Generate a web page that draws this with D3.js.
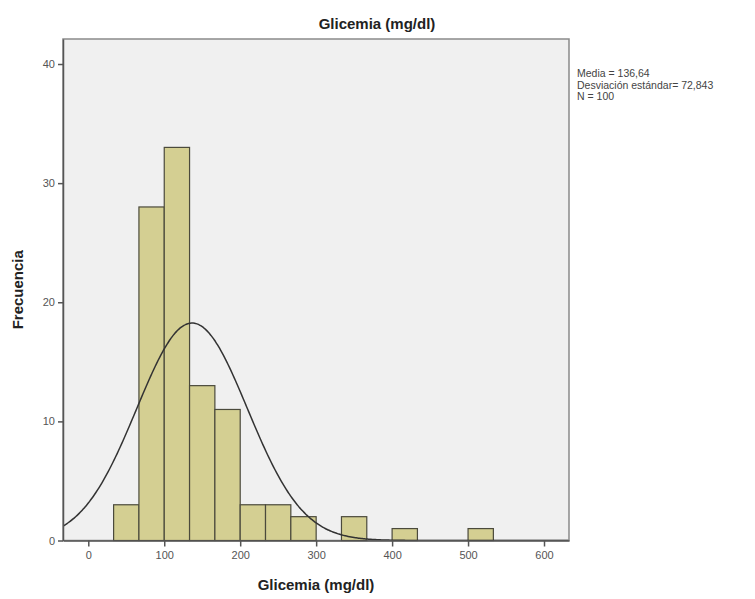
<!DOCTYPE html>
<html>
<head>
<meta charset="utf-8">
<script src="https://cdn.jsdelivr.net/npm/d3@7"></script>
<style>
	body { margin: 0; background: #fff; }
	text { font-family: "Liberation Sans", Arial, sans-serif; }
	.tick text { fill: #555; font-size: 11px; }
</style>
</head>
<body>
<svg id="hist" width="755" height="599"></svg>
<script>
// histogram bins (lower edge, mg/dl) and their frequencies
const binWidth = 100 / 3;
const binStarts = [33.33, 66.67, 100, 133.33, 166.67, 200, 233.33, 266.67, 333.33, 400, 500];
const binCounts = [3, 28, 33, 13, 11, 3, 3, 2, 2, 1, 1];

const xTicks = [0, 100, 200, 300, 400, 500, 600];
const yTicks = [0, 10, 20, 30, 40];

// summary stats printed next to the chart (also define the normal curve)
const mean = 136.64;
const stdDev = 72.843;
const nTotal = 100;
const statLines = ["Media = 136,64", "Desviación estándar= 72,843", "N = 100"];

const svg = d3.select("#hist");

// plot frame
const frame = {left: 63, right: 569, top: 39, bottom: 540.5};

const x = d3.scaleLinear().domain([-33.3, 632.9]).range([frame.left, frame.right]);
const y = d3.scaleLinear().domain([0, 42.1]).range([frame.bottom, frame.top]);

svg.append("defs").append("clipPath")
	.attr("id", "plot-clip")
	.append("rect")
	.attr("x", frame.left).attr("y", frame.top)
	.attr("width", frame.right - frame.left).attr("height", frame.bottom - frame.top);

svg.append("rect")
	.attr("x", frame.left).attr("y", frame.top)
	.attr("width", frame.right - frame.left).attr("height", frame.bottom - frame.top)
	.style("fill", "#f0f0f0")
	.style("stroke", "#8a8a8a")
	.style("stroke-width", 1.5);

// bars
const bins = binStarts.map((s, i) => ({x0: s, x1: s + binWidth, n: binCounts[i]}));

svg.append("g").selectAll(".bar")
	.data(bins)
	.enter()
	.append("rect")
	.classed("bar", true)
	.attr("x", d => x(d.x0))
	.attr("y", d => y(d.n))
	.attr("width", d => x(d.x1) - x(d.x0))
	.attr("height", d => y(0) - y(d.n))
	.style("fill", "#d4cf92")
	.style("stroke", "#4b4a3c")
	.style("stroke-width", 1.2);

// fitted normal curve, scaled to the counts
const curvePts = d3.range(-34, 634, 2).map(v => {
	const z = (v - mean) / stdDev;
	return [v, nTotal * binWidth * Math.exp(-z * z / 2) / (stdDev * Math.sqrt(2 * Math.PI))];
});

svg.append("path")
	.datum(curvePts)
	.attr("clip-path", "url(#plot-clip)")
	.attr("d", d3.line().x(d => x(d[0])).y(d => y(d[1])).curve(d3.curveBasis))
	.style("fill", "none")
	.style("stroke", "#333")
	.style("stroke-width", 1.5);

// axes
const xAxis = svg.append("g")
	.attr("transform", "translate(0," + frame.bottom + ")")
	.call(d3.axisBottom(x).tickValues(xTicks).tickSizeInner(6).tickSizeOuter(0).tickPadding(5).tickFormat(d3.format("d")));

const yAxis = svg.append("g")
	.attr("transform", "translate(" + frame.left + ",0)")
	.call(d3.axisLeft(y).tickValues(yTicks).tickSizeInner(5).tickSizeOuter(0).tickPadding(3).tickFormat(d3.format("d")));

[xAxis, yAxis].forEach(ax => {
	ax.select(".domain").style("stroke", "#555").style("stroke-width", 1.5);
	ax.selectAll(".tick line").style("stroke", "#555").style("stroke-width", 1.5);
});

// titles
svg.append("text")
	.attr("x", 377).attr("y", 29)
	.attr("text-anchor", "middle")
	.style("font-size", "15px").style("font-weight", "bold").style("fill", "#222")
	.text("Glicemia (mg/dl)");

svg.append("text")
	.attr("x", (frame.left + frame.right) / 2).attr("y", 590)
	.attr("text-anchor", "middle")
	.style("font-size", "15px").style("font-weight", "bold").style("fill", "#222")
	.text("Glicemia (mg/dl)");

svg.append("text")
	.attr("transform", "translate(23," + ((frame.top + frame.bottom) / 2) + ") rotate(-90)")
	.attr("text-anchor", "middle")
	.style("font-size", "15px").style("font-weight", "bold").style("fill", "#222")
	.text("Frecuencia");

// stats box
svg.append("g").selectAll("text")
	.data(statLines)
	.enter()
	.append("text")
	.attr("x", 577)
	.attr("y", (d, i) => 77 + i * 11.5)
	.style("font-size", "10.5px").style("fill", "#444")
	.text(d => d);
</script>
</body>
</html>
